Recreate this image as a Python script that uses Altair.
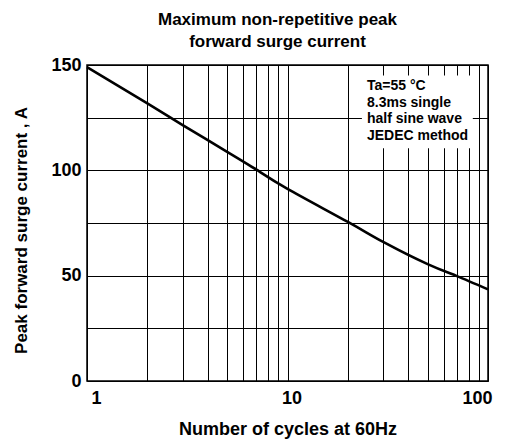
import altair as alt
import pandas as pd

cycles = [1, 2, 3, 5, 7, 10, 20, 30, 50, 70, 100]
current = [149, 131.8, 121.5, 108.8, 100.3, 91.2, 75.5, 66, 55.5, 49.8, 43.5]

x_grid = [1, 2, 3, 4, 5, 6, 7, 8, 9, 10, 20, 30, 40, 50, 60, 70, 80, 90, 100]
y_grid = [0, 25, 50, 75, 100, 125, 150]

title_lines = ["Maximum non-repetitive peak", "forward surge current"]
x_title = "Number of cycles at 60Hz"
y_title = "Peak forward surge current , A"
note_lines = ["Ta=55 °C", "8.3ms single", "half sine wave", "JEDEC method"]
note_box_x = [23.5, 84]
note_box_y = [110.5, 145]

FONT = "Liberation Sans"

df = pd.DataFrame({"cycles": cycles, "current": current})

xs = alt.Scale(type="log", domain=[1, 100], nice=False)
ys = alt.Scale(domain=[0, 150], nice=False)

line = alt.Chart(df).mark_line(color="black", strokeWidth=2.6, interpolate="natural").encode(
    x=alt.X("cycles:Q", scale=xs,
            axis=alt.Axis(values=x_grid, ticks=False, domain=False, grid=True,
                          labelExpr="(datum.value==1||datum.value==10||datum.value==100) ? datum.label : ''",
                          format="d", title=x_title, labelFontSize=18, titleFontSize=18,
                          labelPadding=8, titlePadding=13, labelOffset=4)),
    y=alt.Y("current:Q", scale=ys,
            axis=alt.Axis(values=y_grid, ticks=False, domain=False, grid=True,
                          labelExpr="datum.value % 50 == 0 ? datum.label : ''",
                          title=y_title, labelFontSize=18, titleFontSize=17,
                          labelPadding=6, titlePadding=20, titleY=165)),
)

box_df = pd.DataFrame({"x": [note_box_x[0]], "x2": [note_box_x[1]],
                       "y": [note_box_y[0]], "y2": [note_box_y[1]]})
box = alt.Chart(box_df).mark_rect(color="white").encode(
    x=alt.X("x:Q", scale=xs), x2="x2:Q",
    y=alt.Y("y:Q", scale=ys), y2="y2:Q",
)

note = alt.Chart(box_df).mark_text(
    text=note_lines, align="left", baseline="alphabetic", font=FONT,
    fontWeight="bold", fontSize=14, lineHeight=16.5, color="black"
).encode(x=alt.value(280), y=alt.value(25))

chart = alt.layer(line, box, note).properties(
    width=401, height=316,
    padding={"left": 79, "top": 57, "right": 25, "bottom": 60},
    autosize=alt.AutoSizeParams(type="none"),
    title=alt.TitleParams(text=title_lines, fontSize=17, font=FONT, fontWeight="bold",
                          lineHeight=22, offset=5, anchor="middle", dx=-10, color="black"),
).configure_axis(
    gridColor="black", gridOpacity=1, gridWidth=1,
    labelFont=FONT, titleFont=FONT, labelFontWeight="bold", titleFontWeight="bold",
    labelColor="black", titleColor="black",
).configure_view(stroke="black", strokeWidth=1.5)

chart.save("out.html", embed_options={"renderer": "svg", "actions": False})
